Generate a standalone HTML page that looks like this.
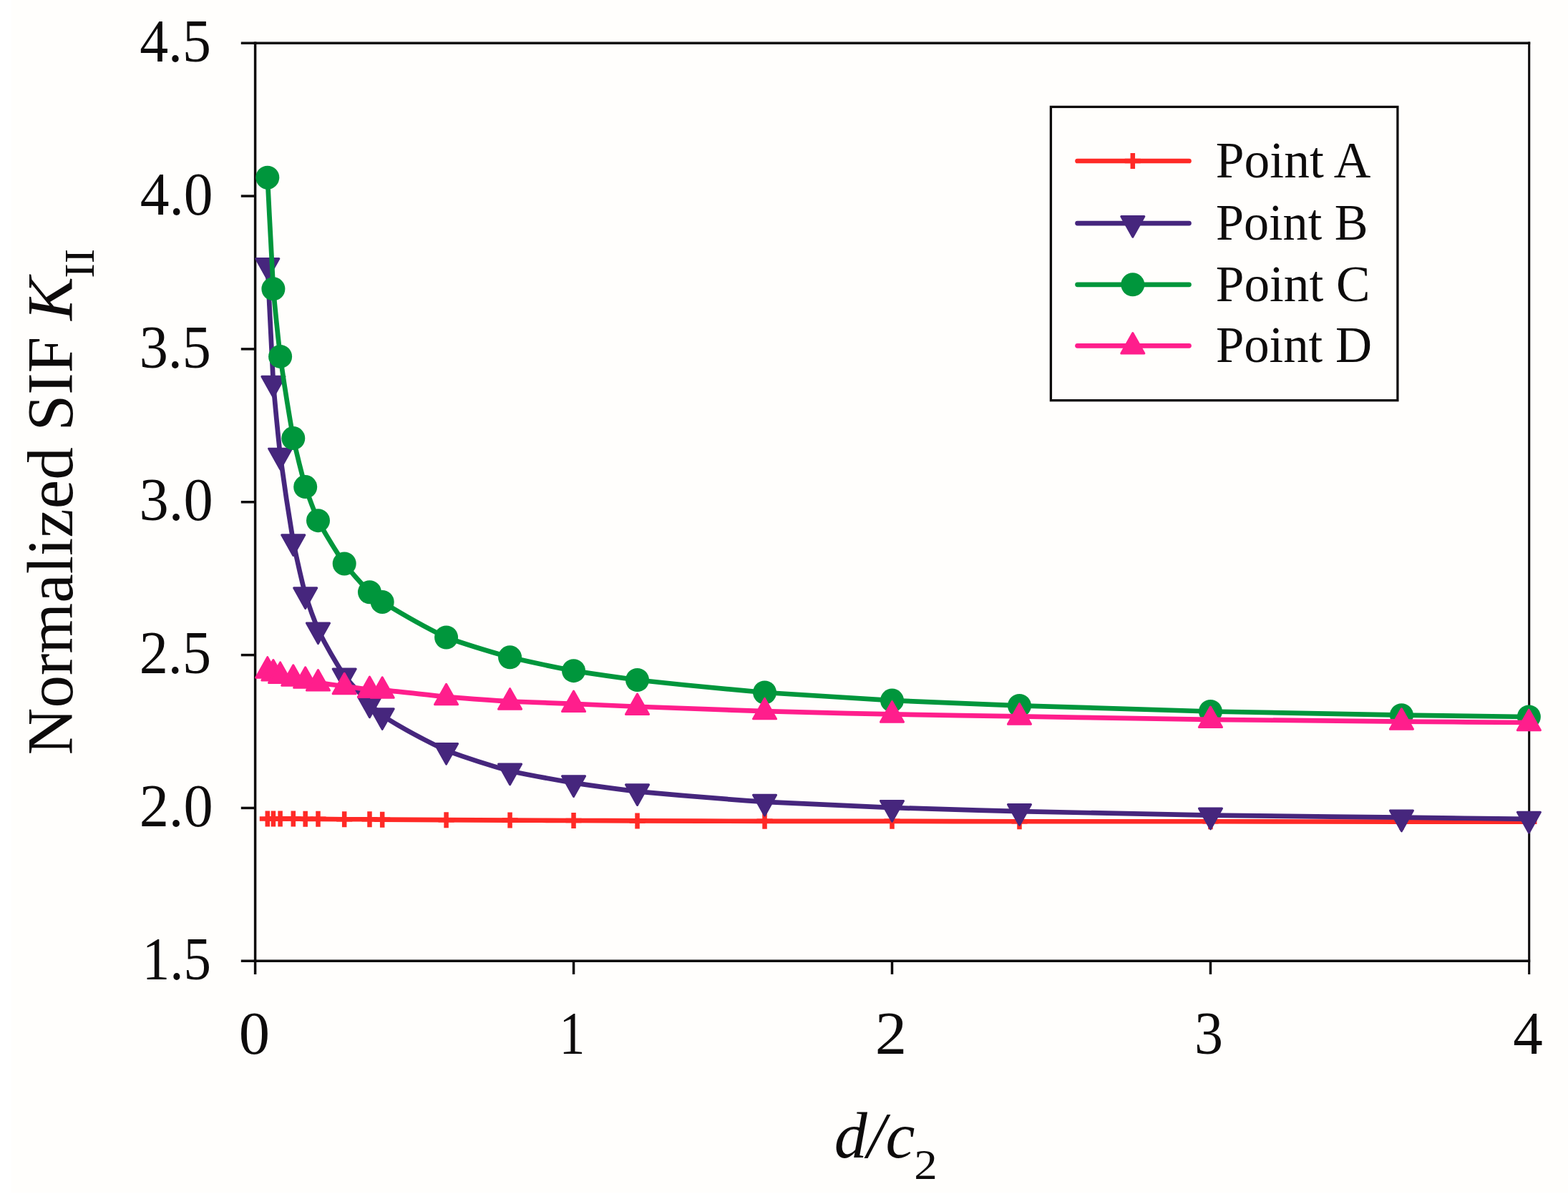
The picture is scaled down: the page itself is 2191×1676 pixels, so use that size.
<!DOCTYPE html>
<html lang="en">
<head>
<meta charset="utf-8">
<title>Normalized SIF K II versus d/c2</title>
<style>
html,body{margin:0;padding:0;background:#fffefc;}
body{width:2191px;height:1676px;}
svg{display:block;}
</style>
</head>
<body>
<svg width="2191" height="1676" viewBox="0 0 2191 1676" role="img" aria-label="Normalized SIF K II versus d/c2 for Points A, B, C and D">
<rect width="2191" height="1676" fill="#fffefc"/>
<rect width="16" height="1676" fill="#ffffff"/>
<rect y="1667" width="2191" height="9" fill="#ffffff"/>
<g stroke="#0d0b0b" stroke-width="3.5" fill="none" stroke-linecap="butt">
<path d="M336.80,60.20H2138.20"/>
<path d="M336.80,1343.30H2138.20"/>
<path d="M356.60,58.45V1361.90"/>
<path d="M2136.70,58.45V1361.90" stroke-width="3.1"/>
<path d="M336.80,274.05H356.60"/>
<path d="M336.80,487.90H356.60"/>
<path d="M336.80,701.75H356.60"/>
<path d="M336.80,915.60H356.60"/>
<path d="M336.80,1129.45H356.60"/>
<path d="M801.55,1343.30V1361.90"/>
<path d="M1246.50,1343.30V1361.90"/>
<path d="M1691.45,1343.30V1361.90"/>
</g>
<g>
<path d="M373.80,1144.42C376.50,1144.42 379.20,1144.42 381.90,1144.42C385.13,1144.42 388.36,1144.42 391.60,1144.42C397.66,1144.42 403.73,1144.42 409.79,1144.42C415.43,1144.49 421.06,1144.78 426.69,1144.85C432.62,1144.85 438.56,1144.85 444.49,1144.85C456.72,1144.92 468.95,1145.20 481.19,1145.27C492.95,1145.27 504.72,1145.27 516.48,1145.27C522.38,1145.35 528.28,1145.60 534.18,1145.70C563.98,1145.91 593.77,1145.99 623.57,1146.13C653.23,1146.27 682.90,1146.42 712.56,1146.56C742.22,1146.70 771.89,1146.84 801.55,1146.99C831.21,1147.13 860.88,1147.29 890.54,1147.41C949.87,1147.58 1009.19,1147.77 1068.52,1147.84C1127.85,1147.84 1187.17,1147.84 1246.50,1147.84C1305.83,1147.91 1365.15,1148.20 1424.48,1148.27C1513.47,1148.27 1602.46,1148.27 1691.45,1148.27C1780.44,1148.34 1869.43,1148.63 1958.42,1148.70C2017.75,1148.70 2077.07,1148.70 2136.40,1148.70" stroke="#ff2a26" stroke-width="6.7" fill="none" stroke-linecap="round" stroke-linejoin="round"/>
<path d="M373.80,1133.42V1155.42M362.80,1144.42H384.80" stroke="#ff2a26" stroke-width="6.5" stroke-linecap="butt" fill="none"/>
<path d="M381.90,1133.42V1155.42M370.90,1144.42H392.90" stroke="#ff2a26" stroke-width="6.5" stroke-linecap="butt" fill="none"/>
<path d="M391.60,1133.42V1155.42M380.60,1144.42H402.60" stroke="#ff2a26" stroke-width="6.5" stroke-linecap="butt" fill="none"/>
<path d="M409.79,1133.42V1155.42M398.79,1144.42H420.79" stroke="#ff2a26" stroke-width="6.5" stroke-linecap="butt" fill="none"/>
<path d="M426.69,1133.85V1155.85M415.69,1144.85H437.69" stroke="#ff2a26" stroke-width="6.5" stroke-linecap="butt" fill="none"/>
<path d="M444.49,1133.85V1155.85M433.49,1144.85H455.49" stroke="#ff2a26" stroke-width="6.5" stroke-linecap="butt" fill="none"/>
<path d="M481.19,1134.27V1156.27M470.19,1145.27H492.19" stroke="#ff2a26" stroke-width="6.5" stroke-linecap="butt" fill="none"/>
<path d="M516.48,1134.27V1156.27M505.48,1145.27H527.48" stroke="#ff2a26" stroke-width="6.5" stroke-linecap="butt" fill="none"/>
<path d="M534.18,1134.70V1156.70M523.18,1145.70H545.18" stroke="#ff2a26" stroke-width="6.5" stroke-linecap="butt" fill="none"/>
<path d="M623.57,1135.13V1157.13M612.57,1146.13H634.57" stroke="#ff2a26" stroke-width="6.5" stroke-linecap="butt" fill="none"/>
<path d="M712.56,1135.56V1157.56M701.56,1146.56H723.56" stroke="#ff2a26" stroke-width="6.5" stroke-linecap="butt" fill="none"/>
<path d="M801.55,1135.99V1157.99M790.55,1146.99H812.55" stroke="#ff2a26" stroke-width="6.5" stroke-linecap="butt" fill="none"/>
<path d="M890.54,1136.41V1158.41M879.54,1147.41H901.54" stroke="#ff2a26" stroke-width="6.5" stroke-linecap="butt" fill="none"/>
<path d="M1068.52,1136.84V1158.84M1057.52,1147.84H1079.52" stroke="#ff2a26" stroke-width="6.5" stroke-linecap="butt" fill="none"/>
<path d="M1246.50,1136.84V1158.84M1235.50,1147.84H1257.50" stroke="#ff2a26" stroke-width="6.5" stroke-linecap="butt" fill="none"/>
<path d="M1424.48,1137.27V1159.27M1413.48,1148.27H1435.48" stroke="#ff2a26" stroke-width="6.5" stroke-linecap="butt" fill="none"/>
<path d="M1691.45,1137.27V1159.27M1680.45,1148.27H1702.45" stroke="#ff2a26" stroke-width="6.5" stroke-linecap="butt" fill="none"/>
<path d="M1958.42,1137.70V1159.70M1947.42,1148.70H1969.42" stroke="#ff2a26" stroke-width="6.5" stroke-linecap="butt" fill="none"/>
<path d="M2136.40,1137.70V1159.70M2125.40,1148.70H2147.40" stroke="#ff2a26" stroke-width="6.5" stroke-linecap="butt" fill="none"/>
</g>
<g>
<path d="M373.80,371.14C376.50,426.03 379.20,489.59 381.90,535.80C385.13,575.10 388.36,606.52 391.60,636.74C397.66,681.97 403.73,721.29 409.79,757.35C415.43,784.50 421.06,809.45 426.69,831.34C432.62,849.61 438.56,865.81 444.49,880.53C456.72,904.67 468.95,925.73 481.19,944.68C492.95,959.11 504.72,971.19 516.48,983.60C522.38,989.36 528.28,995.34 534.18,1000.28C563.98,1019.36 593.77,1034.88 623.57,1049.04C653.23,1059.82 682.90,1069.41 712.56,1077.70C742.22,1083.99 771.89,1089.27 801.55,1094.38C831.21,1098.70 860.88,1102.81 890.54,1106.35C949.87,1111.88 1009.19,1116.73 1068.52,1120.90C1127.85,1123.99 1187.17,1126.62 1246.50,1129.02C1305.83,1130.93 1365.15,1132.57 1424.48,1134.15C1513.47,1136.17 1602.46,1138.14 1691.45,1139.71C1780.44,1140.86 1869.43,1141.69 1958.42,1142.71C2017.75,1143.41 2077.07,1144.13 2136.40,1144.85" stroke="#46267d" stroke-width="6.7" fill="none" stroke-linecap="round" stroke-linejoin="round"/>
<path d="M357.75,361.54H389.85L373.80,390.24Z" fill="#46267d" stroke="#46267d" stroke-width="3.0" stroke-linejoin="round"/>
<path d="M365.85,526.20H397.95L381.90,554.90Z" fill="#46267d" stroke="#46267d" stroke-width="3.0" stroke-linejoin="round"/>
<path d="M375.55,627.14H407.65L391.60,655.84Z" fill="#46267d" stroke="#46267d" stroke-width="3.0" stroke-linejoin="round"/>
<path d="M393.74,747.75H425.84L409.79,776.45Z" fill="#46267d" stroke="#46267d" stroke-width="3.0" stroke-linejoin="round"/>
<path d="M410.64,821.74H442.74L426.69,850.44Z" fill="#46267d" stroke="#46267d" stroke-width="3.0" stroke-linejoin="round"/>
<path d="M428.44,870.93H460.54L444.49,899.63Z" fill="#46267d" stroke="#46267d" stroke-width="3.0" stroke-linejoin="round"/>
<path d="M465.14,935.08H497.24L481.19,963.78Z" fill="#46267d" stroke="#46267d" stroke-width="3.0" stroke-linejoin="round"/>
<path d="M500.43,974.00H532.53L516.48,1002.70Z" fill="#46267d" stroke="#46267d" stroke-width="3.0" stroke-linejoin="round"/>
<path d="M518.13,990.68H550.23L534.18,1019.38Z" fill="#46267d" stroke="#46267d" stroke-width="3.0" stroke-linejoin="round"/>
<path d="M607.52,1039.44H639.62L623.57,1068.14Z" fill="#46267d" stroke="#46267d" stroke-width="3.0" stroke-linejoin="round"/>
<path d="M696.51,1068.10H728.61L712.56,1096.80Z" fill="#46267d" stroke="#46267d" stroke-width="3.0" stroke-linejoin="round"/>
<path d="M785.50,1084.78H817.60L801.55,1113.48Z" fill="#46267d" stroke="#46267d" stroke-width="3.0" stroke-linejoin="round"/>
<path d="M874.49,1096.75H906.59L890.54,1125.45Z" fill="#46267d" stroke="#46267d" stroke-width="3.0" stroke-linejoin="round"/>
<path d="M1052.47,1111.30H1084.57L1068.52,1140.00Z" fill="#46267d" stroke="#46267d" stroke-width="3.0" stroke-linejoin="round"/>
<path d="M1230.45,1119.42H1262.55L1246.50,1148.12Z" fill="#46267d" stroke="#46267d" stroke-width="3.0" stroke-linejoin="round"/>
<path d="M1408.43,1124.55H1440.53L1424.48,1153.25Z" fill="#46267d" stroke="#46267d" stroke-width="3.0" stroke-linejoin="round"/>
<path d="M1675.40,1130.11H1707.50L1691.45,1158.81Z" fill="#46267d" stroke="#46267d" stroke-width="3.0" stroke-linejoin="round"/>
<path d="M1942.37,1133.11H1974.47L1958.42,1161.81Z" fill="#46267d" stroke="#46267d" stroke-width="3.0" stroke-linejoin="round"/>
<path d="M2120.35,1135.25H2152.45L2136.40,1163.95Z" fill="#46267d" stroke="#46267d" stroke-width="3.0" stroke-linejoin="round"/>
</g>
<g>
<path d="M373.80,248.17C376.50,300.07 379.20,360.28 381.90,403.86C385.13,440.73 388.36,470.01 391.60,498.38C397.66,541.09 403.73,578.71 409.79,612.57C415.43,637.68 421.06,660.24 426.69,680.58C432.62,697.90 438.56,713.61 444.49,727.63C456.72,750.42 468.95,769.71 481.19,787.93C492.95,802.42 504.72,815.79 516.48,827.71C522.38,832.64 528.28,837.13 534.18,841.39C563.98,859.66 593.77,876.78 623.57,891.01C653.23,901.57 682.90,910.43 712.56,918.81C742.22,925.68 771.89,931.95 801.55,937.63C831.21,942.31 860.88,946.55 890.54,950.46C949.87,956.93 1009.19,962.80 1068.52,967.99C1127.85,972.11 1187.17,975.79 1246.50,979.11C1305.83,981.79 1365.15,984.13 1424.48,986.38C1513.47,989.31 1602.46,992.11 1691.45,994.51C1780.44,996.41 1869.43,998.10 1958.42,999.64C2017.75,1000.49 2077.07,1001.21 2136.40,1002.00" stroke="#00963c" stroke-width="6.7" fill="none" stroke-linecap="round" stroke-linejoin="round"/>
<circle cx="373.80" cy="248.17" r="16.5" fill="#00963c"/>
<circle cx="381.90" cy="403.86" r="16.5" fill="#00963c"/>
<circle cx="391.60" cy="498.38" r="16.5" fill="#00963c"/>
<circle cx="409.79" cy="612.57" r="16.5" fill="#00963c"/>
<circle cx="426.69" cy="680.58" r="16.5" fill="#00963c"/>
<circle cx="444.49" cy="727.63" r="16.5" fill="#00963c"/>
<circle cx="481.19" cy="787.93" r="16.5" fill="#00963c"/>
<circle cx="516.48" cy="827.71" r="16.5" fill="#00963c"/>
<circle cx="534.18" cy="841.39" r="16.5" fill="#00963c"/>
<circle cx="623.57" cy="891.01" r="16.5" fill="#00963c"/>
<circle cx="712.56" cy="918.81" r="16.5" fill="#00963c"/>
<circle cx="801.55" cy="937.63" r="16.5" fill="#00963c"/>
<circle cx="890.54" cy="950.46" r="16.5" fill="#00963c"/>
<circle cx="1068.52" cy="967.99" r="16.5" fill="#00963c"/>
<circle cx="1246.50" cy="979.11" r="16.5" fill="#00963c"/>
<circle cx="1424.48" cy="986.38" r="16.5" fill="#00963c"/>
<circle cx="1691.45" cy="994.51" r="16.5" fill="#00963c"/>
<circle cx="1958.42" cy="999.64" r="16.5" fill="#00963c"/>
<circle cx="2136.40" cy="1002.00" r="16.5" fill="#00963c"/>
</g>
<g>
<path d="M373.80,936.43C376.50,937.71 379.20,939.09 381.90,940.28C385.13,941.51 388.36,942.69 391.60,943.70C397.66,945.16 403.73,946.32 409.79,947.55C415.43,948.59 421.06,949.50 426.69,950.54C432.62,951.76 438.56,953.26 444.49,954.39C456.72,956.19 468.95,957.51 481.19,959.10C492.95,960.65 504.72,962.62 516.48,963.80C522.38,964.14 528.28,964.33 534.18,964.66C563.98,967.14 593.77,971.22 623.57,974.07C653.23,976.40 682.90,978.67 712.56,980.48C742.22,981.80 771.89,982.73 801.55,983.90C831.21,985.15 860.88,986.52 890.54,987.75C949.87,990.00 1009.19,992.24 1068.52,994.17C1127.85,995.74 1187.17,997.15 1246.50,998.45C1305.83,999.53 1365.15,1000.45 1424.48,1001.44C1513.47,1002.92 1602.46,1004.55 1691.45,1005.84C1780.44,1006.85 1869.43,1007.69 1958.42,1008.54C2017.75,1009.05 2077.07,1009.51 2136.40,1009.99" stroke="#ff1e8c" stroke-width="6.7" fill="none" stroke-linecap="round" stroke-linejoin="round"/>
<path d="M373.80,918.63L389.85,947.13H357.75Z" fill="#ff1e8c" stroke="#ff1e8c" stroke-width="3.0" stroke-linejoin="round"/>
<path d="M381.90,922.48L397.95,950.98H365.85Z" fill="#ff1e8c" stroke="#ff1e8c" stroke-width="3.0" stroke-linejoin="round"/>
<path d="M391.60,925.90L407.65,954.40H375.55Z" fill="#ff1e8c" stroke="#ff1e8c" stroke-width="3.0" stroke-linejoin="round"/>
<path d="M409.79,929.75L425.84,958.25H393.74Z" fill="#ff1e8c" stroke="#ff1e8c" stroke-width="3.0" stroke-linejoin="round"/>
<path d="M426.69,932.74L442.74,961.24H410.64Z" fill="#ff1e8c" stroke="#ff1e8c" stroke-width="3.0" stroke-linejoin="round"/>
<path d="M444.49,936.59L460.54,965.09H428.44Z" fill="#ff1e8c" stroke="#ff1e8c" stroke-width="3.0" stroke-linejoin="round"/>
<path d="M481.19,941.30L497.24,969.80H465.14Z" fill="#ff1e8c" stroke="#ff1e8c" stroke-width="3.0" stroke-linejoin="round"/>
<path d="M516.48,946.00L532.53,974.50H500.43Z" fill="#ff1e8c" stroke="#ff1e8c" stroke-width="3.0" stroke-linejoin="round"/>
<path d="M534.18,946.86L550.23,975.36H518.13Z" fill="#ff1e8c" stroke="#ff1e8c" stroke-width="3.0" stroke-linejoin="round"/>
<path d="M623.57,956.27L639.62,984.77H607.52Z" fill="#ff1e8c" stroke="#ff1e8c" stroke-width="3.0" stroke-linejoin="round"/>
<path d="M712.56,962.68L728.61,991.18H696.51Z" fill="#ff1e8c" stroke="#ff1e8c" stroke-width="3.0" stroke-linejoin="round"/>
<path d="M801.55,966.10L817.60,994.60H785.50Z" fill="#ff1e8c" stroke="#ff1e8c" stroke-width="3.0" stroke-linejoin="round"/>
<path d="M890.54,969.95L906.59,998.45H874.49Z" fill="#ff1e8c" stroke="#ff1e8c" stroke-width="3.0" stroke-linejoin="round"/>
<path d="M1068.52,976.37L1084.57,1004.87H1052.47Z" fill="#ff1e8c" stroke="#ff1e8c" stroke-width="3.0" stroke-linejoin="round"/>
<path d="M1246.50,980.65L1262.55,1009.15H1230.45Z" fill="#ff1e8c" stroke="#ff1e8c" stroke-width="3.0" stroke-linejoin="round"/>
<path d="M1424.48,983.64L1440.53,1012.14H1408.43Z" fill="#ff1e8c" stroke="#ff1e8c" stroke-width="3.0" stroke-linejoin="round"/>
<path d="M1691.45,988.04L1707.50,1016.54H1675.40Z" fill="#ff1e8c" stroke="#ff1e8c" stroke-width="3.0" stroke-linejoin="round"/>
<path d="M1958.42,990.74L1974.47,1019.24H1942.37Z" fill="#ff1e8c" stroke="#ff1e8c" stroke-width="3.0" stroke-linejoin="round"/>
<path d="M2136.40,992.19L2152.45,1020.69H2120.35Z" fill="#ff1e8c" stroke="#ff1e8c" stroke-width="3.0" stroke-linejoin="round"/>
</g>
<rect x="1468.4" y="149.4" width="484.5" height="410.3" fill="#fffefc" stroke="#0d0b0b" stroke-width="3.3"/>
<path d="M1505.5,225.0H1661.5" stroke="#ff2a26" stroke-width="6.7" stroke-linecap="round"/>
<path d="M1582.80,214.00V236.00M1571.80,225.00H1593.80" stroke="#ff2a26" stroke-width="6.5" stroke-linecap="butt" fill="none"/>
<text transform="translate(1698.86,247.80) scale(1.0062,1)" font-family='"Liberation Serif", serif' font-size="71" fill="#0d0b0b">Point A</text>
<path d="M1505.5,312.1H1661.5" stroke="#46267d" stroke-width="6.7" stroke-linecap="round"/>
<path d="M1566.75,302.50H1598.85L1582.80,331.20Z" fill="#46267d" stroke="#46267d" stroke-width="3.0" stroke-linejoin="round"/>
<text transform="translate(1698.89,334.90) scale(0.9888,1)" font-family='"Liberation Serif", serif' font-size="71" fill="#0d0b0b">Point B</text>
<path d="M1505.5,397.8H1661.5" stroke="#00963c" stroke-width="6.7" stroke-linecap="round"/>
<circle cx="1582.80" cy="397.80" r="16.5" fill="#00963c"/>
<text transform="translate(1698.86,420.60) scale(1.0030,1)" font-family='"Liberation Serif", serif' font-size="71" fill="#0d0b0b">Point C</text>
<path d="M1505.5,483.3H1661.5" stroke="#ff1e8c" stroke-width="6.7" stroke-linecap="round"/>
<path d="M1582.80,465.50L1598.85,494.00H1566.75Z" fill="#ff1e8c" stroke="#ff1e8c" stroke-width="3.0" stroke-linejoin="round"/>
<text transform="translate(1698.88,506.10) scale(0.9965,1)" font-family='"Liberation Serif", serif' font-size="71" fill="#0d0b0b">Point D</text>
<text transform="translate(195.20,85.80) scale(0.9448,1)" font-family='"Liberation Serif", serif' font-size="84.5" fill="#0d0b0b">4.5</text>
<text transform="translate(195.67,299.65) scale(0.9649,1)" font-family='"Liberation Serif", serif' font-size="84.5" fill="#0d0b0b">4.0</text>
<text transform="translate(194.65,513.50) scale(0.9501,1)" font-family='"Liberation Serif", serif' font-size="84.5" fill="#0d0b0b">3.5</text>
<text transform="translate(194.55,727.35) scale(0.9758,1)" font-family='"Liberation Serif", serif' font-size="84.5" fill="#0d0b0b">3.0</text>
<text transform="translate(194.72,941.20) scale(0.9495,1)" font-family='"Liberation Serif", serif' font-size="84.5" fill="#0d0b0b">2.5</text>
<text transform="translate(194.63,1155.05) scale(0.9751,1)" font-family='"Liberation Serif", serif' font-size="84.5" fill="#0d0b0b">2.0</text>
<text transform="translate(198.63,1368.90) scale(0.9113,1)" font-family='"Liberation Serif", serif' font-size="84.5" fill="#0d0b0b">1.5</text>
<text transform="translate(333.82,1472.90) scale(1.0263,1)" font-family='"Liberation Serif", serif' font-size="84.5" fill="#0d0b0b">0</text>
<text transform="translate(781.59,1472.90) scale(0.8500,1)" font-family='"Liberation Serif", serif' font-size="84.5" fill="#0d0b0b">1</text>
<text transform="translate(1222.75,1472.90) scale(1.0503,1)" font-family='"Liberation Serif", serif' font-size="84.5" fill="#0d0b0b">2</text>
<text transform="translate(1669.06,1472.90) scale(0.9477,1)" font-family='"Liberation Serif", serif' font-size="84.5" fill="#0d0b0b">3</text>
<text transform="translate(2114.34,1472.90) scale(0.9834,1)" font-family='"Liberation Serif", serif' font-size="84.5" fill="#0d0b0b">4</text>
<text transform="translate(1165.73,1618.10) scale(1.0022,1)" font-family='"Liberation Serif", serif' font-size="92" fill="#0d0b0b"><tspan font-style="italic">d/c</tspan></text>
<text transform="translate(1277.18,1648.20) scale(1.1017,1)" font-family='"Liberation Serif", serif' font-size="59" fill="#0d0b0b">2</text>
<text transform="translate(101.20,1055.43) rotate(-90) scale(0.9908,1)" font-family='"Liberation Serif", serif' font-size="92" fill="#0d0b0b">Normalized SIF <tspan font-style="italic">K</tspan></text>
<text transform="translate(131.00,388.86) rotate(-90) scale(1.0281,1)" font-family='"Liberation Serif", serif' font-size="60" fill="#0d0b0b">II</text>
</svg>
</body>
</html>
